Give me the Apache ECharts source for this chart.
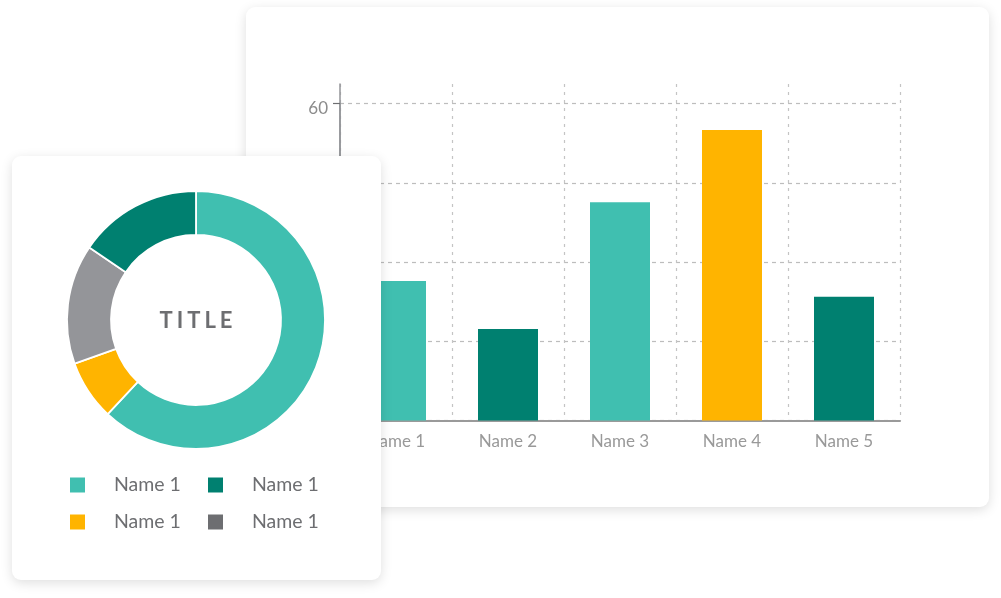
<!DOCTYPE html>
<html>
<head>
<meta charset="utf-8">
<script src="https://cdn.jsdelivr.net/npm/echarts@6/dist/echarts.min.js"></script>
<style>
  html, body { margin: 0; padding: 0; background: #ffffff; width: 1001px; height: 598px; overflow: hidden; font-family: Lato, "Open Sans", sans-serif; }
  .card { position: absolute; background: #ffffff; border-radius: 9px; box-shadow: 0 3px 12px rgba(0,0,0,0.13); }
  #barCard { left: 246px; top: 7px; width: 743px; height: 500px; z-index: 1; }
  #pieCard { left: 12px; top: 156px; width: 369px; height: 424px; z-index: 2; }
  #bar, #pie { position: absolute; left: 0; top: 0; width: 100%; height: 100%; }
  #pieTitle { position: absolute; left: 84px; width: 200px; top: 150px; height: 28px; line-height: 28px; text-align: center;
    font-family: Lato, sans-serif; font-size: 22px; font-weight: 700; letter-spacing: 4px; text-indent: 4px; color: #6d6e71; z-index: 3; pointer-events: none; }
</style>
</head>
<body>
<div id="barCard" class="card"><div id="bar"></div></div>
<div id="pieCard" class="card"><div id="pie"></div><div id="pieTitle">TITLE</div></div>
<script>
// ---- data ----
const barCategories = ['Name 1', 'Name 2', 'Name 3', 'Name 4', 'Name 5'];
const barValues = [26.4, 17.3, 41.3, 55.0, 23.4];
const barColors = ['#40bfb0', '#008070', '#40bfb0', '#ffb400', '#008070'];
const yTicks = { min: 0, max: 60, interval: 15 };

const pieKeys = ['s1', 's2', 's3', 's4'];
const pieLabels = ['Name 1', 'Name 1', 'Name 1', 'Name 1'];
const pieValues = [62.0, 7.5, 15.0, 15.5];
const pieColors = ['#40bfb0', '#ffb400', '#949599', '#008070'];
const legendColors = ['#40bfb0', '#ffb400', '#6d6e71', '#008070'];
const pieTitle = 'TITLE';

document.getElementById('pieTitle').textContent = pieTitle;

// ---- bar chart ----
const bar = echarts.init(document.getElementById('bar'), null, { renderer: 'canvas' });
const font = 'Lato';
bar.setOption({
  animation: false,
  grid: [
    { left: 94, right: 89, top: 77, bottom: 86.5 },
    { left: 94, right: 89, top: 96.5, bottom: 86.5 }
  ],
  xAxis: [
    { type: 'category', gridIndex: 0, data: barCategories,
      axisLine: { show: false }, axisTick: { show: false }, axisLabel: { show: false },
      splitLine: { show: true, lineStyle: { color: '#c4c4c4', width: 1.2, type: [3, 5] } } },
    { type: 'category', gridIndex: 1, data: barCategories,
      axisLine: { show: true, lineStyle: { color: '#9a9a9a', width: 2 } },
      axisTick: { show: false },
      axisLabel: { color: '#999999', fontFamily: font, fontSize: 17, margin: 13 },
      splitLine: { show: false } }
  ],
  yAxis: [
    { type: 'value', gridIndex: 0, min: 0, max: 1,
      axisLine: { show: true, lineStyle: { color: '#939598', width: 1.5 } },
      axisTick: { show: false }, axisLabel: { show: false }, splitLine: { show: false } },
    { type: 'value', gridIndex: 1, min: yTicks.min, max: yTicks.max, interval: yTicks.interval,
      axisLine: { show: true, lineStyle: { color: '#939598', width: 1.5 } },
      axisTick: { show: true, length: 7, lineStyle: { color: '#6d6e71', width: 1.2 } },
      axisLabel: { color: '#8c8c8c', fontFamily: font, fontSize: 17, margin: 12, verticalAlign: 'top', lineHeight: 10 },
      splitLine: { show: true, lineStyle: { color: '#bdbdbd', width: 1.2, type: [4, 4] } } }
  ],
  series: [{
    type: 'bar', xAxisIndex: 1, yAxisIndex: 1, barWidth: 60,
    data: barValues.map((v, i) => ({ value: v, itemStyle: { color: barColors[i] } }))
  }]
});

// ---- donut chart ----
const pie = echarts.init(document.getElementById('pie'), null, { renderer: 'canvas' });
const legendItem = (i) => ({ name: pieKeys[i], icon: 'rect', itemStyle: { color: legendColors[i] } });
const legendCommon = {
  orient: 'vertical', padding: 0, itemWidth: 17, itemHeight: 17, itemGap: 17, selectedMode: false,
  formatter: (name) => pieLabels[pieKeys.indexOf(name)],
  textStyle: { color: '#6d6e71', fontFamily: font, fontSize: 19.5, lineHeight: 19, padding: [0, 0, 0, 23] }
};
pie.setOption({
  animation: false,
  legend: [
    Object.assign({}, legendCommon, { left: 56, top: 319, data: [legendItem(0), legendItem(1)] }),
    Object.assign({}, legendCommon, { left: 194, top: 319, data: [legendItem(3), legendItem(2)] })
  ],
  series: [{
    type: 'pie', center: [184, 164], radius: [85, 129], startAngle: 90, clockwise: true,
    label: { show: false }, labelLine: { show: false }, emphasis: { disabled: true },
    itemStyle: { borderColor: '#ffffff', borderWidth: 1.8 },
    data: pieValues.map((v, i) => ({ name: pieKeys[i], value: v, itemStyle: { color: pieColors[i] } }))
  }]
});
</script>
</body>
</html>
